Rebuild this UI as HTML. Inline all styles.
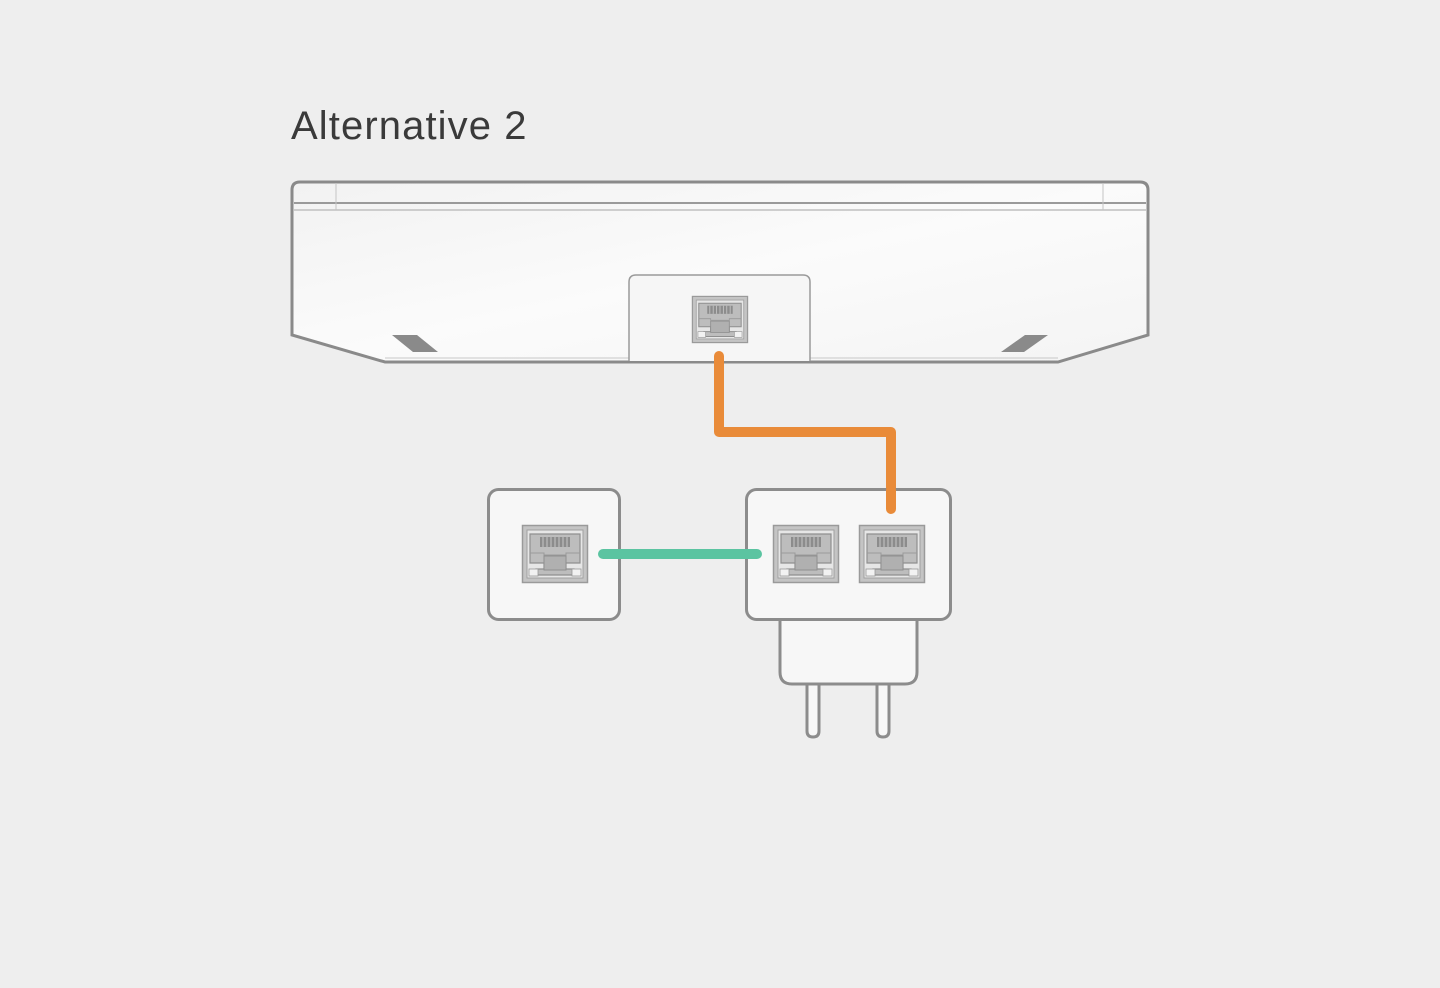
<!DOCTYPE html>
<html><head><meta charset="utf-8"><style>
html,body{margin:0;padding:0;background:#eeeeee;}
svg{display:block;}
</style></head><body>
<svg width="1440" height="988" viewBox="0 0 1440 988" xmlns="http://www.w3.org/2000/svg">
<defs>
<linearGradient id="dg" x1="0" y1="0" x2="1" y2="1">
<stop offset="0" stop-color="#f2f2f2"/><stop offset="0.5" stop-color="#fbfbfb"/><stop offset="1" stop-color="#f4f4f4"/>
</linearGradient>
<g id="port">
<rect x="0.5" y="0.5" width="65" height="57" fill="#c4c4c4" stroke="#9a9a9a" stroke-width="1.5"/>
<rect x="5" y="5" width="56" height="48" fill="#e6e6e6" stroke="#a0a0a0" stroke-width="1"/>
<path d="M8 9 H58 V38 H44 V44 H52 V50 H14 V44 H22 V38 H8 Z" fill="#bdbdbd" stroke="#8f8f8f" stroke-width="1.2"/>
<rect x="18" y="12" width="30" height="10" fill="#8c8c8c"/>
<g stroke="#c6c6c6" stroke-width="1"><line x1="21" y1="12" x2="21" y2="22"/><line x1="25" y1="12" x2="25" y2="22"/><line x1="29" y1="12" x2="29" y2="22"/><line x1="33" y1="12" x2="33" y2="22"/><line x1="37" y1="12" x2="37" y2="22"/><line x1="41" y1="12" x2="41" y2="22"/><line x1="45" y1="12" x2="45" y2="22"/></g>
<path d="M8 28 H22 V30 H44 V28 H58" fill="none" stroke="#9a9a9a" stroke-width="1"/>
<rect x="22" y="31" width="22" height="14" fill="#b0b0b0" stroke="#8f8f8f" stroke-width="1"/>
<rect x="7" y="44" width="9" height="7" fill="#f2f2f2" stroke="#999" stroke-width="0.8"/>
<rect x="50" y="44" width="9" height="7" fill="#f2f2f2" stroke="#999" stroke-width="0.8"/>
</g>
</defs>
<text x="291" y="139" font-family="Liberation Sans, sans-serif" font-size="40" fill="#3a3a3a" letter-spacing="1.1">Alternative 2</text>

<path d="M300 182 H1140 Q1148 182 1148 190 V335 L1058 362 H385 L292 335 V190 Q292 182 300 182 Z" fill="url(#dg)" stroke="#8a8a8a" stroke-width="3"/>
<line x1="294" y1="203" x2="1146" y2="203" stroke="#9a9a9a" stroke-width="2"/>
<line x1="294" y1="210" x2="1146" y2="210" stroke="#c0c0c0" stroke-width="1.5"/>
<line x1="336" y1="183" x2="336" y2="210" stroke="#c4c4c4" stroke-width="1"/>
<line x1="1103" y1="183" x2="1103" y2="210" stroke="#c4c4c4" stroke-width="1"/>
<line x1="385" y1="358" x2="1058" y2="358" stroke="#c8c8c8" stroke-width="1"/>
<path d="M392 335 H417 L438 352 H413 Z" fill="#8a8a8a"/>
<path d="M1025 335 H1048 L1024 352 H1001 Z" fill="#8a8a8a"/>
<path d="M629 361 V282 Q629 275 636 275 H803 Q810 275 810 282 V361" fill="#f6f6f6" stroke="#9a9a9a" stroke-width="1.5"/>
<use href="#port" transform="translate(692,296) scale(0.848,0.81)"/>

<path d="M719 356 V432 H891 V509" fill="none" stroke="#e98b39" stroke-width="10" stroke-linecap="round" stroke-linejoin="round"/>

<rect x="488.5" y="489.5" width="131" height="130" rx="10" fill="#f7f7f7" stroke="#8c8c8c" stroke-width="3"/>
<use href="#port" transform="translate(522,525)"/>

<path d="M807 684 V731 Q807 737 813 737 Q819 737 819 731 V684" fill="#f7f7f7" stroke="#8c8c8c" stroke-width="3"/>
<path d="M877 684 V731 Q877 737 883 737 Q889 737 889 731 V684" fill="#f7f7f7" stroke="#8c8c8c" stroke-width="3"/>
<path d="M780 615 V672 Q780 684 792 684 H905 Q917 684 917 672 V615" fill="#f7f7f7" stroke="#8c8c8c" stroke-width="3"/>
<rect x="746.5" y="489.5" width="204" height="130" rx="10" fill="#f7f7f7" stroke="#8c8c8c" stroke-width="3"/>
<use href="#port" transform="translate(773,525)"/>
<use href="#port" transform="translate(859,525)"/>
<path d="M891 490 V509" fill="none" stroke="#e98b39" stroke-width="10" stroke-linecap="round"/>
<line x1="603" y1="554" x2="757" y2="554" stroke="#5bc4a1" stroke-width="10" stroke-linecap="round"/>
</svg>
</body></html>
